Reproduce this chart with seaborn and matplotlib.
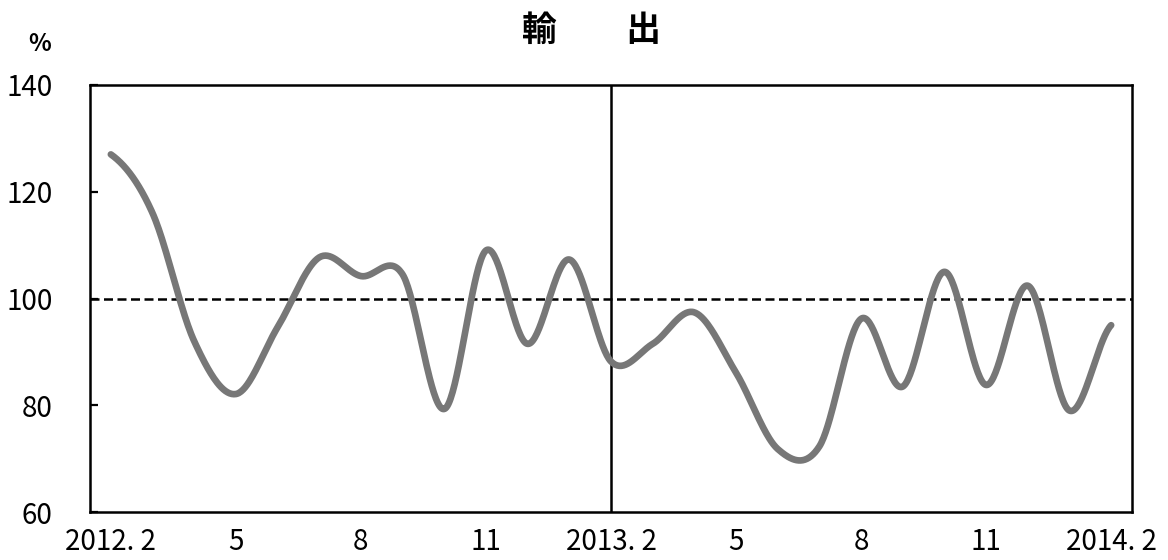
import numpy as np
import pandas as pd
import matplotlib
matplotlib.use("Agg")
import matplotlib.pyplot as plt
from matplotlib import font_manager
import seaborn as sns

# ---- data ----
months = ["2012.2", "2012.3", "2012.4", "2012.5", "2012.6", "2012.7", "2012.8",
          "2012.9", "2012.10", "2012.11", "2012.12", "2013.1", "2013.2", "2013.3",
          "2013.4", "2013.5", "2013.6", "2013.7", "2013.8", "2013.9", "2013.10",
          "2013.11", "2013.12", "2014.1", "2014.2"]
values = [127.0, 116.0, 92.0, 82.1, 94.6, 107.7, 104.2, 104.5, 79.3, 109.0,
          91.5, 107.3, 88.2, 91.5, 97.4, 86.1, 71.8, 72.3, 96.2, 83.5,
          105.0, 83.8, 102.4, 79.0, 95.0]
tick_pos = [0, 3, 6, 9, 12, 15, 18, 21, 24]
tick_labels = ["2012. 2", "5", "8", "11", "2013. 2", "5", "8", "11", "2014. 2"]
y_ticks = [60, 80, 100, 120, 140]
title = "輸　　出"
unit = "%"

# ---- fonts ----
sns.set_theme(style="white")
available = {f.name for f in font_manager.fontManager.ttflist}
num_font = next((f for f in ["Liberation Sans Narrow", "DejaVu Sans Condensed",
                             "Noto Sans CJK JP"] if f in available), "DejaVu Sans")
plt.rcParams['font.family'] = ['Noto Sans CJK JP', 'DejaVu Sans']


def catmull_rom(y, n=40):
    y = np.asarray(y, float)
    p = np.concatenate([[y[0]], y, [y[-1]]])
    xs, ys = [], []
    t = np.linspace(0, 1, n, endpoint=False)
    h00 = 2 * t**3 - 3 * t**2 + 1
    h10 = t**3 - 2 * t**2 + t
    h01 = -2 * t**3 + 3 * t**2
    h11 = t**3 - t**2
    for i in range(len(y) - 1):
        p0, p1, p2, p3 = p[i], p[i + 1], p[i + 2], p[i + 3]
        m1 = (p2 - p0) / 2.0
        m2 = (p3 - p1) / 2.0
        xs.append(i + t)
        ys.append(h00 * p1 + h10 * m1 + h01 * p2 + h11 * m2)
    xs.append(np.array([len(y) - 1.0]))
    ys.append(np.array([y[-1]]))
    return np.concatenate(xs), np.concatenate(ys)


sx, sy = catmull_rom(values)
df = pd.DataFrame({"x": sx, "y": sy})

fig = plt.figure(figsize=(11.68, 5.6), dpi=100)
ax = fig.add_axes([90 / 1168, 48 / 560, 1042 / 1168, 427 / 560])

ax.axhline(100, color="black", lw=1.8, ls=(0, (3.6, 1.8)), zorder=1)
ax.axvline(12, color="black", lw=1.8, zorder=1)
sns.lineplot(data=df, x="x", y="y", ax=ax, sort=False, estimator=None,
             color="#777777", lw=4.8, zorder=3)

ax.set_xlim(-0.5, len(values) - 0.5)
ax.set_ylim(60, 140)
ax.set_yticks(y_ticks)
ax.set_xticks(tick_pos)
ax.set_xticklabels(tick_labels)
ax.set_xlabel("")
ax.set_ylabel("")

for sp in ax.spines.values():
    sp.set_visible(True)
    sp.set_color("black")
    sp.set_linewidth(1.8)

ax.tick_params(axis="y", direction="in", length=6, width=1.6, color="black",
               pad=27, labelsize=20, labelcolor="black", left=True)
ax.tick_params(axis="x", length=0, pad=11, labelsize=20, labelcolor="black")
for lab in ax.get_xticklabels() + ax.get_yticklabels():
    lab.set_fontfamily([num_font, 'Noto Sans CJK JP', 'DejaVu Sans'])

fig.text(592 / 1168, 1 - 30 / 560, title, ha="center", va="center",
         fontsize=25, fontweight="bold", color="black",
         family=['Noto Sans CJK JP', 'DejaVu Sans'])
fig.text(40 / 1168, 1 - 44 / 560, unit, ha="center", va="center",
         fontsize=17, fontweight="bold", color="black",
         family=['Noto Sans CJK JP', 'DejaVu Sans'])

fig.savefig("out.png", dpi=100)
